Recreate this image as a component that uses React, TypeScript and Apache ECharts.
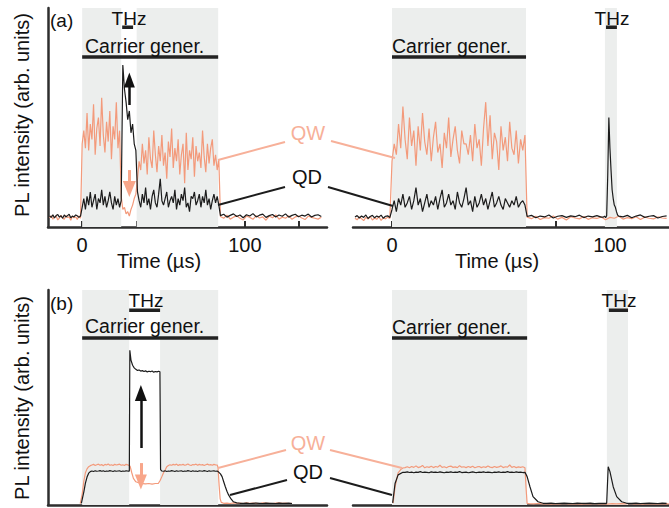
import React, { useEffect, useRef } from "react";
import * as echarts from "echarts";

// ---------- periods (µs) ----------
const tlCarrier = [0, 83.6];
const tlThzGap = [24, 33.5];
const tlThzBar = [24.6, 31.3];
const trCarrier = [0, 61.5];
const trThz = [97.7, 103.2];
const trThzBar = [98.2, 103.2];
const blCarrier = [0, 83.6];
const blThz = [28.9, 47.9];
const brCarrier = [0, 62];
const brThz = [98.6, 108.3];
const brThzBar = [99.5, 108.3];

// ---------- ticks ----------
const tlTickValues = [0, 33.33, 66.67, 100, 133.33];
const trTickValues = [0, 25, 50, 75, 100];
const xLabelValues = [0, 100];

// ---------- arrows: [x, from, to] ----------
const tlArrowUp = [29, 55.7, 67.1];
const tlArrowDown = [29, 26, 17.4];
const blArrowUp = [36.1, 26.5, 52.1];
const blArrowDown = [36.1, 19.5, 10.7];

// ---------- (a) left panel ----------
const tlPreQW = [4.2, 5.1, 3.6, 4.6, 5.0, 3.2, 4.1, 5.4, 4.0, 3.5, 5.2, 4.3, 4.7, 3.1, 5.0, 4.2, 4.6, 3.4, 5.1, 4.0];
const tlPreQD = [5.0, 4.4, 5.6, 4.1, 5.2, 5.7, 4.5, 5.1, 4.0, 5.5, 4.6, 5.2, 5.8, 4.2, 5.0, 4.6, 5.5, 5.1, 4.4, 5.0];
const tlOn1QW = [38, 44, 36, 52, 35, 47, 40, 56, 33, 45, 50, 37, 59, 42, 34, 48, 39, 53, 31, 46, 40, 57, 36, 44];
const tlOn1QD = [9, 13, 8, 14, 10, 16, 9, 12, 15, 8, 13, 11, 17, 10, 14, 9, 12, 16, 11, 8, 14, 10, 13, 9];
const tlThzQW = [14, 8, 9, 6, 7, 5, 8, 10, 13, 15];
const tlThzQD = [12, 74, 63, 57, 49, 53, 43, 47, 38, 35];
const tlOn2QW = [22, 30, 26, 38, 29, 35, 24, 41, 31, 27, 44, 33, 25, 37, 30, 42, 28, 34, 22, 39, 32, 45, 27, 36, 30, 40, 24, 33, 38, 20, 43, 26, 35, 31, 41, 23, 37, 30, 34, 27, 44, 32, 25, 38, 29, 36, 40, 28, 33, 26, 31];
const tlOn2QD = [16, 12, 9, 15, 11, 18, 10, 13, 8, 14, 17, 11, 9, 15, 22, 12, 10, 13, 16, 9, 12, 14, 11, 17, 8, 13, 10, 15, 12, 18, 9, 11, 7, 14, 13, 16, 10, 12, 15, 9, 14, 11, 17, 10, 13, 8, 12, 15, 11, 14, 10];
const tlPostQW = [4.8, 4.0, 5.4, 3.6, 4.5, 5.1, 4.0, 3.2, 5.0, 4.4, 3.5, 5.2, 4.1, 4.6, 3.1, 5.0, 4.2, 5.5, 3.6, 4.5, 4.0, 5.1, 3.5, 4.6, 5.0, 4.1, 3.4, 5.0, 4.4, 4.0, 3.6, 4.5];
const tlPostQD = [5.2, 5.8, 4.5, 5.3, 6.0, 4.8, 5.5, 4.2, 5.6, 5.0, 6.1, 4.6, 5.4, 5.9, 4.4, 5.2, 5.7, 4.6, 5.5, 4.9, 6.0, 4.5, 5.3, 5.8, 4.7, 5.4, 5.0, 5.9, 4.6, 5.3, 5.6, 4.8];

// ---------- (a) right panel ----------
const trPreQW = [4.0, 3.3, 4.6, 3.8, 2.9, 4.4, 3.6, 4.8, 3.2, 4.1, 3.5, 4.7, 3.0, 4.2, 3.7, 4.5, 3.9];
const trPreQD = [4.6, 5.2, 4.1, 5.0, 4.4, 5.5, 3.9, 4.8, 5.3, 4.2, 5.0, 4.5, 5.4, 4.0, 4.9, 5.1, 4.3];
const trOnQW = [30, 38, 33, 47, 36, 55, 40, 31, 50, 37, 44, 28, 46, 35, 52, 39, 33, 45, 30, 41, 48, 34, 38, 27, 43, 36, 50, 32, 40, 46, 35, 29, 44, 38, 38, 33, 42, 30, 47, 36, 40, 28, 45, 57, 37, 51, 31, 43, 39, 26, 46, 35, 41, 30, 48, 36, 33, 44, 29, 40, 35, 42];
const trOnQD = [8, 12, 7, 13, 10, 15, 9, 11, 14, 8, 12, 18, 10, 13, 7, 11, 15, 9, 12, 10, 14, 8, 13, 17, 9, 11, 15, 10, 12, 8, 16, 11, 9, 13, 18, 10, 12, 7, 14, 9, 11, 15, 10, 13, 8, 12, 16, 9, 11, 14, 10, 8, 13, 11, 9, 12, 10, 14, 9, 11, 12, 10];
const trPostQW = [4.5, 3.8, 4.9, 3.4, 4.3, 4.0, 5.0, 3.6, 4.4, 3.2, 4.7, 4.1, 3.7, 4.8, 3.5, 4.2, 3.9, 4.6, 3.3, 4.4, 4.0, 4.9, 3.6, 4.3, 3.8, 4.7, 3.4, 4.5, 4.0, 3.7, 4.6, 4.1, 3.9];
const trPostQD1 = [4.8, 5.3, 4.2, 5.0, 4.6, 5.5, 4.1, 4.9, 5.2, 4.4, 5.1, 4.7, 5.4, 4.3, 5.0, 4.6, 5.2, 4.5];
const trSpikeQD = [4.5, 5.0, 4.2, 5.2, 24, 50, 36, 26, 17, 13, 10, 9, 7, 5.5, 5.0];
const trPostQD2 = [4.6, 5.3, 4.2, 5.0, 5.5, 4.4, 4.9, 5.2, 4.1, 4.8, 5.1];

// ---------- (b) left panel ----------
const blQWRise = [[-1.2, 0.6], [0, 5], [1, 11], [2, 15], [3, 16.8], [4, 17.8], [5, 18.3]];
const blQWPlat1 = [18.6, 18.9, 18.4, 18.7, 19.0, 18.5, 18.8, 18.3, 18.9, 18.6, 19.1, 18.5, 18.7, 18.4, 18.9, 18.6, 18.8, 19.0, 18.5, 18.7, 18.4, 18.9, 18.7];
const blQWThz = [[29.5, 18], [30.5, 15], [31.5, 12.4], [33, 10.8], [35.6, 10.1], [37, 9.9], [39, 9.8], [41, 10.0], [43, 9.7], [45, 10.0], [46.9, 10.1], [48, 11.5], [49, 13.2], [50, 15], [51, 16.3], [52, 17.8], [53, 18.4]];
const blQWPlat2 = [18.7, 18.5, 18.9, 18.6, 19.0, 18.4, 18.8, 18.6, 18.9, 18.5, 18.7, 19.1, 18.6, 18.4, 18.8, 18.7, 19.0, 18.5, 18.9, 18.6, 18.8, 18.4, 18.7, 19.0, 18.6, 18.8, 18.5, 18.9, 18.7, 18.6];
const blQWFall = [[83.5, 17.5], [84.2, 9], [84.8, 3], [85.5, 1.2], [87, 0.8]];
const blQWPost = [0.9, 0.7, 1.0, 0.8, 0.9, 0.7, 1.0, 0.8, 0.9, 0.8, 0.7, 1.0, 0.9, 0.8, 0.7, 0.9, 1.0, 0.8, 0.9, 0.7, 0.8];

const blQDRise = [[-0.5, 0.8], [1, 6], [2, 10.2], [3, 13], [4, 14.8], [5, 15.5]];
const blQDPlat1 = [15.8, 15.6, 15.9, 15.7, 15.8, 16.0, 15.7, 15.9, 15.6, 15.8, 15.7, 16.0, 15.8, 15.6, 15.9, 15.7, 15.8, 15.9, 15.6, 15.8, 15.7, 15.9, 15.8];
const blQDThz = [[29, 15.8], [29.3, 72], [30, 67.4], [31, 65], [32, 63.8], [33, 63.1], [34, 62.6], [35, 62.8], [36, 62.3], [37, 62.5], [38, 62.1], [39, 62.4], [40, 61.9], [41, 62.2], [42, 62.0], [43, 62.3], [44, 61.8], [45, 62.1], [46, 61.9], [47, 62.2], [47.8, 62.0], [48.2, 16.5], [49, 15.8]];
const blQDPlat2 = [15.7, 15.9, 15.6, 15.8, 15.7, 16.0, 15.8, 15.6, 15.9, 15.7, 15.8, 15.9, 15.6, 15.8, 15.7, 16.0, 15.8, 15.6, 15.9, 15.7, 15.8, 15.6, 15.9, 15.8, 15.7, 16.0, 15.8, 15.6, 15.9, 15.7, 15.8, 15.9, 15.7, 15.8];
const blQDFall = [[83.6, 15.5], [85, 14.5], [86, 13.2], [87, 10.8], [88, 8.5], [89, 6.4], [90, 4.7], [91.5, 2.8], [93, 1.5], [95, 1.0], [97, 0.8]];
const blQDPost = [0.8, 0.9, 0.7, 0.8, 0.9, 0.8, 0.7, 0.9, 0.8, 0.8, 0.7, 0.9, 0.8, 0.8, 0.9, 0.7];

// ---------- (b) right panel ----------
const brQWRise = [[0.5, 0.9], [1.4, 8.4], [2.8, 14.9], [4, 16.5], [5, 17.2]];
const brQWPlat = [17.4, 17.8, 17.3, 17.9, 17.5, 18.2, 17.4, 17.7, 18.4, 17.3, 17.8, 17.5, 18.0, 17.4, 17.9, 17.6, 18.5, 17.5, 17.8, 17.3, 17.9, 18.1, 17.5, 17.7, 17.4, 18.3, 17.6, 17.8, 17.4, 17.9, 17.5, 18.0, 17.3, 17.7, 17.9, 17.4, 17.8, 17.5, 18.1, 17.6, 17.4, 17.9, 17.5, 17.7, 18.2, 17.4, 17.8, 17.6, 18.6, 17.5, 17.9, 17.4, 17.7, 17.5, 17.8];
const brQWFall = [[61, 17.3], [61.5, 8], [62, 0.7]];
const brQWPost = [0.6, 0.5, 0.7, 0.5, 0.6, 0.4, 0.6, 0.5, 0.7, 0.5, 0.6, 0.5, 0.4, 0.6, 0.5, 0.7, 0.5, 0.6, 0.4, 0.6, 0.5, 0.6, 0.5, 0.7, 0.5, 0.6, 0.4, 0.6, 0.5, 0.6, 0.5, 0.6, 0.5];

const brQDRise = [[0.3, 1.0], [1.4, 10], [2.8, 14], [5, 15.2]];
const brQDPlat = [15.2, 15.4, 15.1, 15.3, 15.0, 15.3, 15.2, 15.5, 15.1, 15.3, 15.2, 15.0, 15.4, 15.2, 15.3, 15.1, 15.4, 15.2, 15.0, 15.3, 15.2, 15.4, 15.1, 15.3, 15.2, 15.5, 15.1, 15.2, 15.3, 15.0, 15.2, 15.4, 15.2, 15.1, 15.3, 15.2, 15.4, 15.1, 15.3, 15.2, 15.0, 15.3, 15.2, 15.4, 15.1, 15.3, 15.2, 15.5, 15.2, 15.3, 15.1, 15.4, 15.2, 15.3, 15.1, 15.2];
const brQDFall = [[62, 13.2], [63.3, 8.5], [64.7, 3.9], [67, 1.5], [69.3, 0.8]];
const brQDMid = [0.8, 0.9, 0.7, 0.8, 0.9, 0.8, 0.7, 0.9, 0.8, 0.8, 0.9, 0.7, 0.8, 0.8];
const brQDSpike = [[98.5, 0.8], [99.2, 17.8], [100, 15.5], [101.5, 8.5], [103.1, 3.9], [105.4, 1.5], [107.7, 0.8]];
const brQDPost = [0.8, 0.9, 0.7, 0.8, 0.9, 0.8, 0.7, 0.9, 0.8];

// sampling helper: pairs each typed value with its sample time
const seg = (t0: number, dt: number, vals: number[]) =>
  vals.map((v, i) => [Math.round((t0 + i * dt) * 100) / 100, v]);

const tlQW = [...seg(-20, 1, tlPreQW), ...seg(0, 1, tlOn1QW), ...seg(24, 1, tlThzQW), ...seg(34, 1, tlOn2QW), ...seg(85, 2, tlPostQW)];
const tlQD = [...seg(-20, 1, tlPreQD), ...seg(0, 1, tlOn1QD), ...seg(24, 1, tlThzQD), ...seg(34, 1, tlOn2QD), ...seg(85, 2, tlPostQD)];
const trQW = [...seg(-17, 1, trPreQW), ...seg(0, 1, trOnQW), ...seg(62, 2, trPostQW)];
const trQD = [...seg(-17, 1, trPreQD), ...seg(0, 1, trOnQD), ...seg(62, 2, trPostQD1), ...seg(97, 0.5, trSpikeQD), ...seg(106, 2, trPostQD2)];
const blQW = [...blQWRise, ...seg(6, 1, blQWPlat1), ...blQWThz, ...seg(54, 1, blQWPlat2), ...blQWFall, ...seg(89, 2, blQWPost)];
const blQD = [...blQDRise, ...seg(6, 1, blQDPlat1), ...blQDThz, ...seg(50, 1, blQDPlat2), ...blQDFall, ...seg(99, 2, blQDPost)];
const brQW = [...brQWRise, ...seg(6, 1, brQWPlat), ...brQWFall, ...seg(63, 2, brQWPost)];
const brQD = [...brQDRise, ...seg(6, 1, brQDPlat), ...brQDFall, ...seg(71, 2, brQDMid), ...brQDSpike, ...seg(110, 2, brQDPost)];

const FONT = "'Liberation Sans', Arial, Helvetica, sans-serif";
const GRAY = "#eceeed";
const QW_C = "#f39a7b";
const QW_L = "#f7b099";
const QD_C = "#1c1c1c";
const AX_C = "#2e2e2e";
const BAR_C = "#222222";

export default function App() {
  const ref = useRef<HTMLDivElement>(null);
  useEffect(() => {
    if (!ref.current) return;
    const chart = echarts.init(ref.current, null, { renderer: "svg" });

    const topBarY = 77.6, topThzY = 91.2, botBarY = 77.7, botThzY = 90.6;

    const xAx = (gi: number, min: number, max: number, ticks: number[] | null) => ({
      type: "value",
      gridIndex: gi,
      min,
      max,
      axisLine: { show: true, onZero: false, lineStyle: { color: AX_C, width: 2.5 } },
      splitLine: { show: false },
      axisTick: ticks
        ? { show: true, inside: true, length: 6, customValues: ticks, lineStyle: { color: AX_C, width: 2 } }
        : { show: false },
      axisLabel: ticks
        ? { show: true, customValues: xLabelValues, margin: 8, fontSize: 20, color: "#111", fontFamily: FONT }
        : { show: false },
    });
    const yAx = (gi: number, showLine: boolean) => ({
      type: "value",
      gridIndex: gi,
      min: 0,
      max: 100,
      axisLine: { show: showLine, onZero: false, lineStyle: { color: AX_C, width: 2.5 } },
      axisTick: { show: false },
      axisLabel: { show: false },
      splitLine: { show: false },
    });

    const base = (gi: number) => ({
      type: "line",
      xAxisIndex: gi,
      yAxisIndex: gi,
      showSymbol: false,
      symbol: "none",
      silent: true,
      animation: false,
    });

    const bands = (gi: number, areas: number[][]) => ({
      ...base(gi),
      data: [],
      z: 1,
      markArea: {
        silent: true,
        animation: false,
        itemStyle: { color: GRAY },
        data: areas.map((a) => [{ xAxis: a[0] }, { xAxis: a[1] }]),
      },
    });
    const bar = (gi: number, range: number[], y: number) => ({
      ...base(gi),
      data: [[range[0], y], [range[1], y]],
      lineStyle: { color: BAR_C, width: 3.5 },
      z: 4,
    });
    const trace = (gi: number, data: number[][], color: string) => ({
      ...base(gi),
      data,
      lineStyle: { color, width: 1.2 },
      z: 3,
    });
    const arrow = (gi: number, a: number[], color: string, width: number, head: number[]) => ({
      ...base(gi),
      data: [],
      z: 5,
      markLine: {
        silent: true,
        animation: false,
        label: { show: false },
        symbol: ["none", "triangle"],
        lineStyle: { color, width, type: "solid" },
        emphasis: { disabled: true },
        data: [[{ coord: [a[0], a[1]], symbol: "none" }, { coord: [a[0], a[2]], symbol: "triangle", symbolSize: head }]],
      },
    });

    const txt = (text: string, x: number, y: number, size: number, color = "#111", align = "left", rotation = 0) => ({
      type: "text",
      x,
      y,
      rotation,
      z: 100,
      silent: true,
      style: {
        text,
        fill: color,
        fontSize: size,
        fontFamily: FONT,
        align,
        verticalAlign: "middle",
        textAlign: align,
        textVerticalAlign: "middle",
      },
    });
    const ln = (x1: number, y1: number, x2: number, y2: number, color: string) => ({
      type: "line",
      z: 100,
      silent: true,
      shape: { x1, y1, x2, y2 },
      style: { stroke: color, lineWidth: 2 },
    });

    const option = {
      animation: false,
      backgroundColor: "#ffffff",
      grid: [
        { left: 48, top: 8, width: 279, height: 219 },
        { left: 353, top: 8, width: 316, height: 219 },
        { left: 48, top: 290, width: 279, height: 215 },
        { left: 353, top: 290, width: 316, height: 215 },
      ],
      xAxis: [
        xAx(0, -21, 150.5, tlTickValues),
        xAx(1, -17.9, 127.1, trTickValues),
        xAx(2, -21, 150.5, null),
        xAx(3, -17.9, 127.1, null),
      ],
      yAxis: [yAx(0, true), yAx(1, false), yAx(2, true), yAx(3, false)],
      series: [
        bands(0, [[tlCarrier[0], tlThzGap[0]], [tlThzGap[1], tlCarrier[1]]]),
        bands(1, [trCarrier, trThz]),
        bands(2, [[blCarrier[0], blThz[0]], [blThz[1], blCarrier[1]]]),
        bands(3, [brCarrier, brThz]),
        trace(0, tlQW, QW_C),
        trace(0, tlQD, QD_C),
        trace(1, trQW, QW_C),
        trace(1, trQD, QD_C),
        trace(2, blQW, QW_C),
        trace(2, blQD, QD_C),
        trace(3, brQW, QW_C),
        trace(3, brQD, QD_C),
        bar(0, tlCarrier, topBarY),
        bar(0, tlThzBar, topThzY),
        bar(1, trCarrier, topBarY),
        bar(1, trThzBar, topThzY),
        bar(2, blCarrier, botBarY),
        bar(2, blThz, botThzY),
        bar(3, brCarrier, botBarY),
        bar(3, brThzBar, botThzY),
        arrow(0, tlArrowUp, "#111111", 2.5, [11, 15]),
        arrow(0, tlArrowDown, "#f8a68a", 3, [13, 16]),
        arrow(2, blArrowUp, "#111111", 2.5, [12, 16]),
        arrow(2, blArrowDown, "#f8a68a", 3, [12, 15]),
      ],
      graphic: [
        txt("(a)", 50, 20, 19),
        txt("(b)", 50, 303, 19),
        txt("THz", 129, 18, 19, "#111", "center"),
        txt("Carrier gener.", 85, 46, 19.5),
        txt("THz", 612, 18, 19, "#111", "center"),
        txt("Carrier gener.", 392, 46, 19.5),
        txt("THz", 146, 300, 19, "#111", "center"),
        txt("Carrier gener.", 85, 326, 19.5),
        txt("THz", 619, 300, 19, "#111", "center"),
        txt("Carrier gener.", 392, 327, 19.5),
        txt("QW", 308, 133, 20, QW_L, "center"),
        txt("QD", 307, 177, 20, "#111", "center"),
        txt("QW", 308, 443, 20, QW_L, "center"),
        txt("QD", 308, 472, 20, "#111", "center"),
        txt("PL intensity (arb. units)", 22, 115, 20, "#111", "center", Math.PI / 2),
        txt("PL intensity (arb. units)", 22, 398, 20, "#111", "center", Math.PI / 2),
        txt("Time (µs)", 159, 261, 20, "#111", "center"),
        txt("Time (µs)", 497, 261, 20, "#111", "center"),
        ln(218, 160, 285, 142, QW_L),
        ln(331, 141, 395, 158, QW_L),
        ln(218, 205, 285, 187, QD_C),
        ln(328, 187, 393, 206, QD_C),
        ln(218, 468, 286, 450, QW_L),
        ln(330, 450, 402, 468, QW_L),
        ln(230, 495, 287, 480, QD_C),
        ln(330, 478, 392, 495, QD_C),
      ],
    };

    chart.setOption(option as any);
    return () => chart.dispose();
  }, []);

  return (
    <div
      ref={ref}
      style={{ position: "absolute", left: 0, top: 0, width: 669, height: 508, background: "#fff" }}
    />
  );
}
